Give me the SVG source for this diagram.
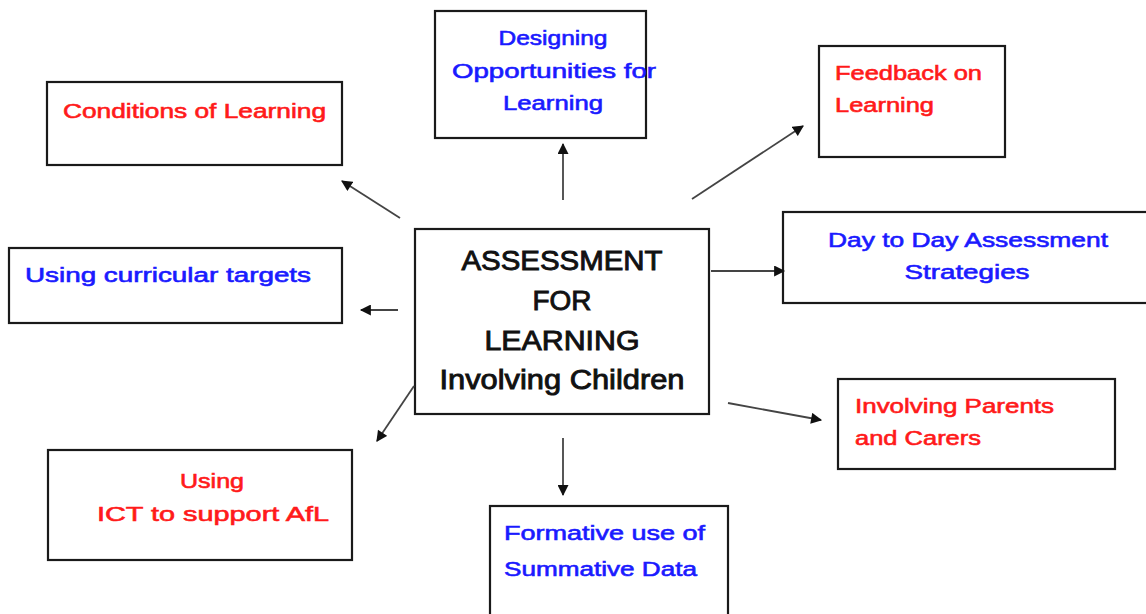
<svg xmlns="http://www.w3.org/2000/svg" width="1146" height="614" viewBox="0 0 1146 614">
<defs>
<marker id="ah" viewBox="0 0 10 10" refX="9" refY="5" markerWidth="12" markerHeight="11" markerUnits="userSpaceOnUse" orient="auto">
<path d="M0,0 L10,5 L0,10 z" fill="#111"/>
</marker>
</defs>
<style>
.box{fill:#fff;stroke:#1a1a1a;stroke-width:2.2}
text{font-family:"Liberation Sans","DejaVu Sans",sans-serif;font-size:20px;stroke-width:0.6}
.r{fill:#ff1a1a;stroke:#ff1a1a}
.b{fill:#1a1aff;stroke:#1a1aff}
.k{fill:#111;stroke:#111;font-size:27px;stroke-width:0.9}
.c{stroke:#444;stroke-width:1.8;fill:none;marker-end:url(#ah)}
</style>
<rect width="1146" height="614" fill="#fff"/>
<g id="conditions">
<rect class="box" x="47" y="82" width="295" height="83"/>
<text class="r" x="63" y="118" textLength="263" lengthAdjust="spacingAndGlyphs">Conditions of Learning</text>
</g>
<g id="designing">
<rect class="box" x="435" y="11" width="211" height="127"/>
<text class="b" x="553" y="45" text-anchor="middle" textLength="109" lengthAdjust="spacingAndGlyphs">Designing</text>
<text class="b" x="554" y="78" text-anchor="middle" textLength="204" lengthAdjust="spacingAndGlyphs">Opportunities for</text>
<text class="b" x="553" y="110" text-anchor="middle" textLength="100" lengthAdjust="spacingAndGlyphs">Learning</text>
</g>
<g id="feedback">
<rect class="box" x="819" y="46" width="186" height="111"/>
<text class="r" x="835" y="80" textLength="147" lengthAdjust="spacingAndGlyphs">Feedback on</text>
<text class="r" x="835" y="112" textLength="99" lengthAdjust="spacingAndGlyphs">Learning</text>
</g>
<g id="curricular">
<rect class="box" x="9" y="248" width="333" height="75"/>
<text class="b" x="25" y="282" textLength="286" lengthAdjust="spacingAndGlyphs">Using curricular targets</text>
</g>
<g id="center">
<rect class="box" x="415" y="229" width="294" height="185"/>
<text class="k" x="562" y="270" text-anchor="middle" textLength="201" lengthAdjust="spacingAndGlyphs">ASSESSMENT</text>
<text class="k" x="562" y="310" text-anchor="middle" textLength="59" lengthAdjust="spacingAndGlyphs">FOR</text>
<text class="k" x="562" y="350" text-anchor="middle" textLength="155" lengthAdjust="spacingAndGlyphs">LEARNING</text>
<text class="k" x="562" y="389" text-anchor="middle" textLength="245" lengthAdjust="spacingAndGlyphs">Involving Children</text>
</g>
<g id="daytoday">
<rect class="box" x="783" y="212" width="370" height="91"/>
<text class="b" x="968" y="247" text-anchor="middle" textLength="280" lengthAdjust="spacingAndGlyphs">Day to Day Assessment</text>
<text class="b" x="967" y="279" text-anchor="middle" textLength="125" lengthAdjust="spacingAndGlyphs">Strategies</text>
</g>
<g id="parents">
<rect class="box" x="838" y="379" width="277" height="90"/>
<text class="r" x="855" y="413" textLength="199" lengthAdjust="spacingAndGlyphs">Involving Parents</text>
<text class="r" x="855" y="445" textLength="126" lengthAdjust="spacingAndGlyphs">and Carers</text>
</g>
<g id="ict">
<rect class="box" x="48" y="450" width="304" height="110"/>
<text class="r" x="212" y="488" text-anchor="middle" textLength="64" lengthAdjust="spacingAndGlyphs">Using</text>
<text class="r" x="213" y="521" text-anchor="middle" textLength="232" lengthAdjust="spacingAndGlyphs">ICT to support AfL</text>
</g>
<g id="formative">
<rect class="box" x="490" y="506" width="238" height="120"/>
<text class="b" x="504" y="540" textLength="201" lengthAdjust="spacingAndGlyphs">Formative use of</text>
<text class="b" x="504" y="576" textLength="193" lengthAdjust="spacingAndGlyphs">Summative Data</text>
</g>
<g id="connectors">
<line class="c" x1="400" y1="218" x2="342" y2="181"/>
<line class="c" x1="563" y1="200" x2="563" y2="144"/>
<line class="c" x1="692" y1="199" x2="803" y2="126"/>
<line class="c" x1="398" y1="310" x2="361" y2="310"/>
<line class="c" x1="711" y1="271" x2="784" y2="271"/>
<line class="c" x1="414" y1="386" x2="377" y2="441"/>
<line class="c" x1="563" y1="438" x2="563" y2="495"/>
<line class="c" x1="728" y1="403" x2="821" y2="420"/>
</g>
</svg>
